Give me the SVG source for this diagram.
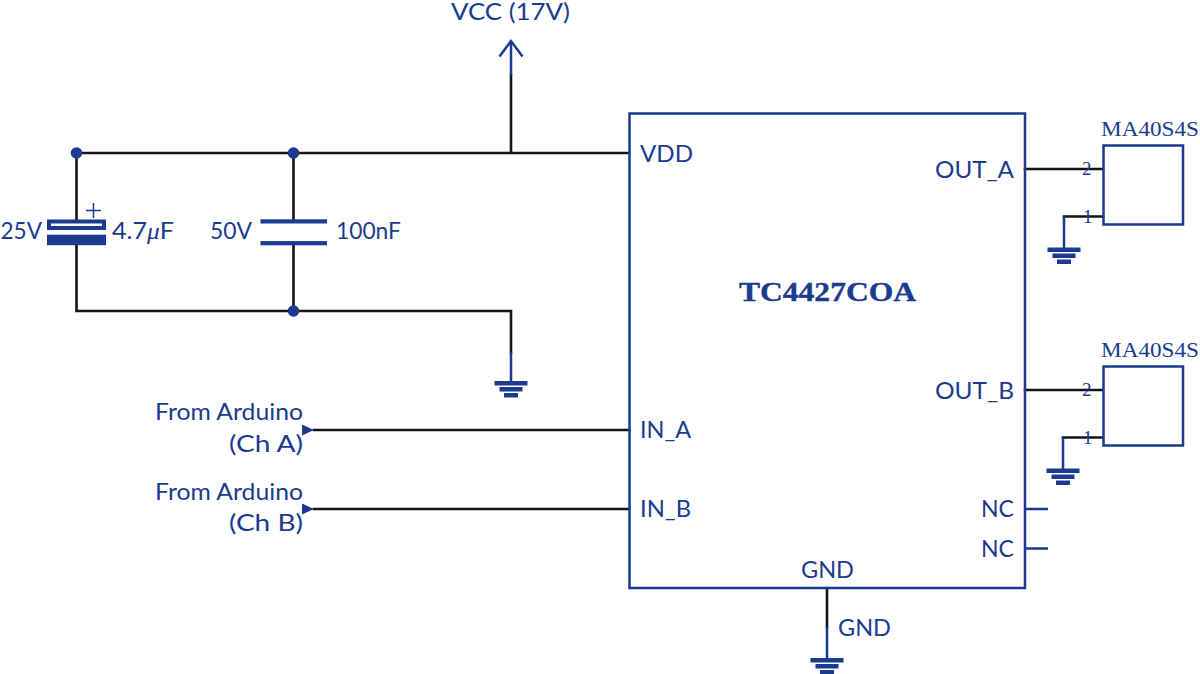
<svg xmlns="http://www.w3.org/2000/svg" width="1200" height="674" viewBox="0 0 1200 674">
<style>
.w{fill:none;stroke:#151515;stroke-width:2.6;stroke-linecap:square;stroke-linejoin:miter}
.b{fill:none;stroke:#1a3b8f;stroke-width:2.5}
.p{fill:none;stroke:#1a3b8f;stroke-width:1.5}
.f{fill:#1a3b8f;stroke:none}
text{fill:#1a3b8f}
.t{font-family:"Lato","Noto Sans","Liberation Sans",sans-serif;font-size:23.5px}
.v{font-family:"Lato","Noto Sans","Liberation Sans",sans-serif;font-size:22.5px}
.s{font-family:"Liberation Serif",serif;font-size:20.5px}
.n{font-family:"Liberation Serif",serif;font-size:19px}
.h{font-family:"Liberation Serif",serif;font-size:28px;font-weight:bold;stroke:#1a3b8f;stroke-width:0.4px}
</style>
<defs>
<g id="gnd"><rect class="f" x="-16.5" y="-2" width="33" height="4.500"/><rect class="f" x="-11.5" y="4" width="23" height="4.500"/><rect class="f" x="-7" y="10" width="14" height="4.500"/></g>
</defs>
<rect width="1200" height="674" fill="#fff"/>
<g id="connectors">
<path class="w" d="M76.5 219V153H629M293.5 153V219M511 153V75M76.5 245V311H511V352M293.5 245V311"/>
<path class="b" d="M511 75V41M511 352V381"/>
<path class="w" d="M314 430H629M314 509H629M1025 169H1103M1025 390H1103M1103 216.500H1064M1103 437.500H1063M827 588V627"/>
<path class="b" d="M1064 216.500V248M1063 437.500V469M827 627V658"/>
<path class="b" d="M1025 509H1048M1025 548.500H1048"/>
</g>
<g id="junctions">
<circle class="f" cx="76.500" cy="153" r="5.800"/>
<circle class="f" cx="293.500" cy="153" r="5.800"/>
<circle class="f" cx="293.500" cy="311" r="5.800"/>
</g>
<g id="vcc"><path class="b" d="M499.500 56.500L511 41L522.500 56.500"/><text class="v" x="451" y="20" textLength="119" lengthAdjust="spacingAndGlyphs">VCC (17V)</text></g>
<g id="c1">
<rect class="f" x="47" y="219.500" width="59" height="10.500"/><rect x="51" y="223.500" width="51" height="2.500" fill="#fff"/>
<rect class="f" x="47" y="234.700" width="59" height="10.500"/>
<path class="p" d="M86 210.500H101M93.500 203V218"/>
<text class="t" x="0.500" y="238.500" textLength="41.500" lengthAdjust="spacingAndGlyphs">25V</text>
<text class="t" x="112" y="238.500" textLength="62" lengthAdjust="spacingAndGlyphs">4.7<tspan font-family="'Liberation Serif',serif" font-style="italic">μ</tspan>F</text>
</g>
<g id="c2">
<rect class="f" x="260.500" y="219.300" width="66.500" height="4.200"/>
<rect class="f" x="260.500" y="241.100" width="66.500" height="4.200"/>
<text class="t" x="210" y="238.500" textLength="42" lengthAdjust="spacingAndGlyphs">50V</text>
<text class="t" x="336" y="238.500" textLength="65" lengthAdjust="spacingAndGlyphs">100nF</text>
</g>
<g id="gnd1"><use href="#gnd" x="511" y="383"/></g>
<g id="in-a"><path class="f" d="M302 424.500L314 430L302 435.500Z"/>
<text class="t" x="155" y="420" textLength="148" lengthAdjust="spacingAndGlyphs">From Arduino</text>
<text class="t" x="229" y="451.500" textLength="74" lengthAdjust="spacingAndGlyphs">(Ch A)</text></g>
<g id="in-b"><path class="f" d="M302 503.500L314 509L302 514.500Z"/>
<text class="t" x="155" y="499.500" textLength="148" lengthAdjust="spacingAndGlyphs">From Arduino</text>
<text class="t" x="229" y="530.500" textLength="74" lengthAdjust="spacingAndGlyphs">(Ch B)</text></g>
<g id="chip">
<rect class="b" x="629.500" y="113.500" width="395.500" height="474.500"/>
<text class="h" x="739" y="301" textLength="177" lengthAdjust="spacingAndGlyphs">TC4427COA</text>
<text class="t" x="640" y="161.500" textLength="53" lengthAdjust="spacingAndGlyphs">VDD</text>
<text class="t" x="640" y="438" textLength="51" lengthAdjust="spacingAndGlyphs">IN_A</text>
<text class="t" x="640" y="517" textLength="51" lengthAdjust="spacingAndGlyphs">IN_B</text>
<text class="t" x="935" y="177.500" textLength="79" lengthAdjust="spacingAndGlyphs">OUT_A</text>
<text class="t" x="935" y="398.500" textLength="79" lengthAdjust="spacingAndGlyphs">OUT_B</text>
<text class="t" x="981" y="517" textLength="33" lengthAdjust="spacingAndGlyphs">NC</text>
<text class="t" x="981" y="556.500" textLength="33" lengthAdjust="spacingAndGlyphs">NC</text>
<text class="t" x="801" y="578" textLength="53" lengthAdjust="spacingAndGlyphs">GND</text>
</g>
<g id="gnd4"><use href="#gnd" x="827" y="660"/><text class="t" x="838" y="636" textLength="53" lengthAdjust="spacingAndGlyphs">GND</text></g>
<g id="ma-a">
<rect class="b" x="1103.500" y="145.500" width="79.500" height="79"/>
<text class="s" x="1101" y="135.500" textLength="98" lengthAdjust="spacingAndGlyphs">MA40S4S</text>
<text class="n" x="1082" y="175">2</text><text class="n" x="1083" y="223">1</text>
<use href="#gnd" x="1064" y="249.500"/>
</g>
<g id="ma-b">
<rect class="b" x="1103.500" y="366.500" width="79.500" height="79"/>
<text class="s" x="1101" y="356.500" textLength="98" lengthAdjust="spacingAndGlyphs">MA40S4S</text>
<text class="n" x="1082" y="396">2</text><text class="n" x="1083" y="444">1</text>
<use href="#gnd" x="1063" y="470.500"/>
</g>
</svg>
